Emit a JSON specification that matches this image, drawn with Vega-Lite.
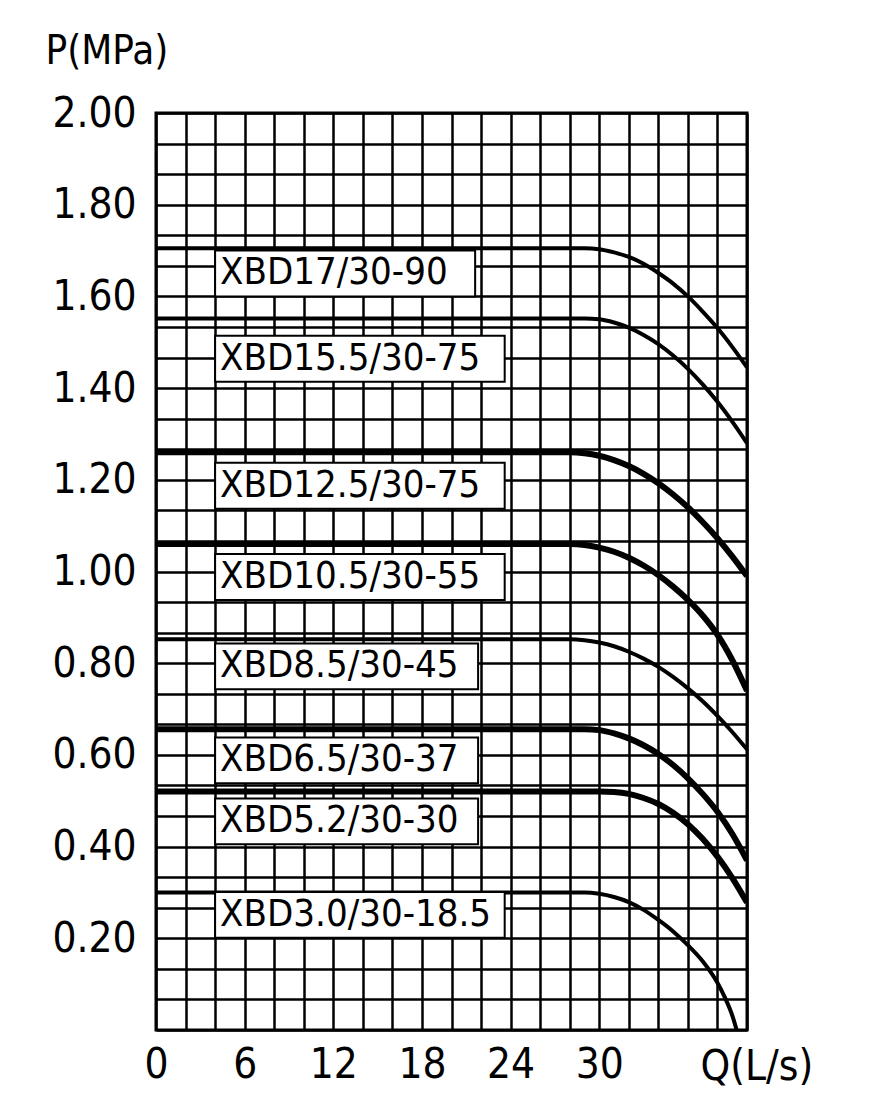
{
  "$schema": "https://vega.github.io/schema/vega-lite/v6.json",
  "width": 591,
  "height": 917,
  "autosize": {"type": "none"},
  "padding": {"left": 156, "top": 113, "right": 147, "bottom": 89},
  "background": "white",
  "config": {
    "font": "DejaVu Sans Condensed",
    "view": {"stroke": "black", "strokeWidth": 3}
  },
  "datasets": {
    "curves": [
      {"series": "XBD17/30-90", "q": 0, "p": 1.705},
      {"series": "XBD17/30-90", "q": 29, "p": 1.705},
      {"series": "XBD17/30-90", "q": 30, "p": 1.703},
      {"series": "XBD17/30-90", "q": 31, "p": 1.696},
      {"series": "XBD17/30-90", "q": 32, "p": 1.686},
      {"series": "XBD17/30-90", "q": 33, "p": 1.671},
      {"series": "XBD17/30-90", "q": 34, "p": 1.651},
      {"series": "XBD17/30-90", "q": 35, "p": 1.628},
      {"series": "XBD17/30-90", "q": 36, "p": 1.600},
      {"series": "XBD17/30-90", "q": 37, "p": 1.567},
      {"series": "XBD17/30-90", "q": 38, "p": 1.531},
      {"series": "XBD17/30-90", "q": 39, "p": 1.490},
      {"series": "XBD17/30-90", "q": 40, "p": 1.445},
      {"series": "XBD15.5/30-75", "q": 0, "p": 1.552},
      {"series": "XBD15.5/30-75", "q": 29, "p": 1.552},
      {"series": "XBD15.5/30-75", "q": 30, "p": 1.550},
      {"series": "XBD15.5/30-75", "q": 31, "p": 1.543},
      {"series": "XBD15.5/30-75", "q": 32, "p": 1.532},
      {"series": "XBD15.5/30-75", "q": 33, "p": 1.516},
      {"series": "XBD15.5/30-75", "q": 34, "p": 1.496},
      {"series": "XBD15.5/30-75", "q": 35, "p": 1.471},
      {"series": "XBD15.5/30-75", "q": 36, "p": 1.442},
      {"series": "XBD15.5/30-75", "q": 37, "p": 1.408},
      {"series": "XBD15.5/30-75", "q": 38, "p": 1.370},
      {"series": "XBD15.5/30-75", "q": 39, "p": 1.327},
      {"series": "XBD15.5/30-75", "q": 40, "p": 1.280},
      {"series": "XBD12.5/30-75", "q": 0, "p": 1.26},
      {"series": "XBD12.5/30-75", "q": 28, "p": 1.26},
      {"series": "XBD12.5/30-75", "q": 29, "p": 1.258},
      {"series": "XBD12.5/30-75", "q": 30, "p": 1.2525},
      {"series": "XBD12.5/30-75", "q": 31, "p": 1.243},
      {"series": "XBD12.5/30-75", "q": 32, "p": 1.23},
      {"series": "XBD12.5/30-75", "q": 33, "p": 1.213},
      {"series": "XBD12.5/30-75", "q": 34, "p": 1.1925},
      {"series": "XBD12.5/30-75", "q": 35, "p": 1.168},
      {"series": "XBD12.5/30-75", "q": 36, "p": 1.14},
      {"series": "XBD12.5/30-75", "q": 37, "p": 1.108},
      {"series": "XBD12.5/30-75", "q": 38, "p": 1.0725},
      {"series": "XBD12.5/30-75", "q": 39, "p": 1.033},
      {"series": "XBD12.5/30-75", "q": 40, "p": 0.99},
      {"series": "XBD10.5/30-55", "q": 0, "p": 1.06},
      {"series": "XBD10.5/30-55", "q": 28, "p": 1.06},
      {"series": "XBD10.5/30-55", "q": 29, "p": 1.058},
      {"series": "XBD10.5/30-55", "q": 30, "p": 1.052},
      {"series": "XBD10.5/30-55", "q": 31, "p": 1.043},
      {"series": "XBD10.5/30-55", "q": 32, "p": 1.03},
      {"series": "XBD10.5/30-55", "q": 33, "p": 1.013},
      {"series": "XBD10.5/30-55", "q": 34, "p": 0.992},
      {"series": "XBD10.5/30-55", "q": 35, "p": 0.967},
      {"series": "XBD10.5/30-55", "q": 36, "p": 0.938},
      {"series": "XBD10.5/30-55", "q": 37, "p": 0.904},
      {"series": "XBD10.5/30-55", "q": 38, "p": 0.862},
      {"series": "XBD10.5/30-55", "q": 39, "p": 0.807},
      {"series": "XBD10.5/30-55", "q": 40, "p": 0.74},
      {"series": "XBD8.5/30-45", "q": 0, "p": 0.852},
      {"series": "XBD8.5/30-45", "q": 28, "p": 0.852},
      {"series": "XBD8.5/30-45", "q": 29, "p": 0.850},
      {"series": "XBD8.5/30-45", "q": 30, "p": 0.845},
      {"series": "XBD8.5/30-45", "q": 31, "p": 0.837},
      {"series": "XBD8.5/30-45", "q": 32, "p": 0.825},
      {"series": "XBD8.5/30-45", "q": 33, "p": 0.810},
      {"series": "XBD8.5/30-45", "q": 34, "p": 0.792},
      {"series": "XBD8.5/30-45", "q": 35, "p": 0.770},
      {"series": "XBD8.5/30-45", "q": 36, "p": 0.745},
      {"series": "XBD8.5/30-45", "q": 37, "p": 0.717},
      {"series": "XBD8.5/30-45", "q": 38, "p": 0.685},
      {"series": "XBD8.5/30-45", "q": 39, "p": 0.650},
      {"series": "XBD8.5/30-45", "q": 40, "p": 0.612},
      {"series": "XBD6.5/30-37", "q": 0, "p": 0.656},
      {"series": "XBD6.5/30-37", "q": 29, "p": 0.656},
      {"series": "XBD6.5/30-37", "q": 30, "p": 0.654},
      {"series": "XBD6.5/30-37", "q": 31, "p": 0.647},
      {"series": "XBD6.5/30-37", "q": 32, "p": 0.636},
      {"series": "XBD6.5/30-37", "q": 33, "p": 0.621},
      {"series": "XBD6.5/30-37", "q": 34, "p": 0.602},
      {"series": "XBD6.5/30-37", "q": 35, "p": 0.578},
      {"series": "XBD6.5/30-37", "q": 36, "p": 0.549},
      {"series": "XBD6.5/30-37", "q": 37, "p": 0.515},
      {"series": "XBD6.5/30-37", "q": 38, "p": 0.476},
      {"series": "XBD6.5/30-37", "q": 39, "p": 0.428},
      {"series": "XBD6.5/30-37", "q": 40, "p": 0.37},
      {"series": "XBD5.2/30-30", "q": 0, "p": 0.52},
      {"series": "XBD5.2/30-30", "q": 30, "p": 0.52},
      {"series": "XBD5.2/30-30", "q": 31, "p": 0.519},
      {"series": "XBD5.2/30-30", "q": 32, "p": 0.515},
      {"series": "XBD5.2/30-30", "q": 33, "p": 0.506},
      {"series": "XBD5.2/30-30", "q": 34, "p": 0.493},
      {"series": "XBD5.2/30-30", "q": 35, "p": 0.474},
      {"series": "XBD5.2/30-30", "q": 36, "p": 0.449},
      {"series": "XBD5.2/30-30", "q": 37, "p": 0.417},
      {"series": "XBD5.2/30-30", "q": 38, "p": 0.378},
      {"series": "XBD5.2/30-30", "q": 39, "p": 0.332},
      {"series": "XBD5.2/30-30", "q": 40, "p": 0.278},
      {"series": "XBD3.0/30-18.5", "q": 0, "p": 0.30},
      {"series": "XBD3.0/30-18.5", "q": 29, "p": 0.30},
      {"series": "XBD3.0/30-18.5", "q": 30, "p": 0.297},
      {"series": "XBD3.0/30-18.5", "q": 31, "p": 0.29},
      {"series": "XBD3.0/30-18.5", "q": 32, "p": 0.279},
      {"series": "XBD3.0/30-18.5", "q": 33, "p": 0.262},
      {"series": "XBD3.0/30-18.5", "q": 34, "p": 0.24},
      {"series": "XBD3.0/30-18.5", "q": 35, "p": 0.215},
      {"series": "XBD3.0/30-18.5", "q": 36, "p": 0.185},
      {"series": "XBD3.0/30-18.5", "q": 37, "p": 0.15},
      {"series": "XBD3.0/30-18.5", "q": 38, "p": 0.103},
      {"series": "XBD3.0/30-18.5", "q": 38.5, "p": 0.071},
      {"series": "XBD3.0/30-18.5", "q": 39, "p": 0.032},
      {"series": "XBD3.0/30-18.5", "q": 39.3, "p": 0.0}
    ],
    "labels": [
      {"name": "XBD17/30-90", "q": 4.0, "q2": 21.6, "p": 1.65},
      {"name": "XBD15.5/30-75", "q": 4.0, "q2": 23.6, "p": 1.464},
      {"name": "XBD12.5/30-75", "q": 4.0, "q2": 23.6, "p": 1.187},
      {"name": "XBD10.5/30-55", "q": 4.0, "q2": 23.6, "p": 0.988},
      {"name": "XBD8.5/30-45", "q": 4.0, "q2": 21.8, "p": 0.793},
      {"name": "XBD6.5/30-37", "q": 4.0, "q2": 21.8, "p": 0.588},
      {"name": "XBD5.2/30-30", "q": 4.0, "q2": 21.8, "p": 0.455},
      {"name": "XBD3.0/30-18.5", "q": 4.0, "q2": 23.6, "p": 0.251}
    ]
  },
  "layer": [
    {
      "data": {"name": "curves"},
      "transform": [{"filter": {"field": "series", "oneOf": ["XBD17/30-90", "XBD15.5/30-75", "XBD8.5/30-45", "XBD3.0/30-18.5"]}}],
      "mark": {"type": "line", "color": "black", "strokeWidth": 4, "interpolate": "monotone", "clip": true},
      "encoding": {
        "x": {
          "field": "q", "type": "quantitative",
          "scale": {"domain": [0, 40], "nice": false, "zero": true},
          "axis": {
            "values": [0, 2, 4, 6, 8, 10, 12, 14, 16, 18, 20, 22, 24, 26, 28, 30, 32, 34, 36, 38, 40],
            "tickCount": 60,
            "labelExpr": "(datum.value % 6 == 0 && datum.value <= 30) ? datum.value : ''",
            "grid": true, "gridColor": "black", "gridWidth": 2.5, "gridOpacity": 1,
            "ticks": false, "domain": false,
            "labelFontSize": 42, "labelColor": "black", "labelPadding": 14,
            "labelFlush": false, "labelOverlap": false,
            "title": "Q(L/s)", "titleFontSize": 42, "titleFontWeight": "normal", "titleColor": "black",
            "titleAnchor": "start", "titleAlign": "left", "titleX": 544, "titleY": 36, "titleBaseline": "middle"
          }
        },
        "y": {
          "field": "p", "type": "quantitative",
          "scale": {"domain": [0, 2], "nice": false, "zero": true},
          "axis": {
            "values": [0, 0.0666667, 0.1333333, 0.2, 0.2666667, 0.3333333, 0.4, 0.4666667, 0.5333333, 0.6, 0.6666667, 0.7333333, 0.8, 0.8666667, 0.9333333, 1.0, 1.0666667, 1.1333333, 1.2, 1.2666667, 1.3333333, 1.4, 1.4666667, 1.5333333, 1.6, 1.6666667, 1.7333333, 1.8, 1.8666667, 1.9333333, 2.0],
            "tickCount": 60,
            "labelExpr": "(abs(datum.value*5 - round(datum.value*5)) < 0.001 && datum.value > 0.01) ? format(datum.value, '.2f') : ''",
            "grid": true, "gridColor": "black", "gridWidth": 2.5, "gridOpacity": 1,
            "ticks": false, "domain": false,
            "labelFontSize": 42, "labelColor": "black", "labelPadding": 20,
            "labelFlush": false, "labelOverlap": false,
            "title": "P(MPa)", "titleFontSize": 40, "titleFontWeight": "normal", "titleColor": "black",
            "titleAngle": 0, "titleAlign": "left", "titleAnchor": "start", "titleX": -111, "titleY": -62, "titleBaseline": "middle"
          }
        },
        "detail": {"field": "series"}
      }
    },
    {
      "data": {"name": "curves"},
      "transform": [{"filter": {"field": "series", "oneOf": ["XBD12.5/30-75", "XBD10.5/30-55", "XBD6.5/30-37", "XBD5.2/30-30"]}}],
      "mark": {"type": "line", "color": "black", "strokeWidth": 6, "interpolate": "monotone", "clip": true},
      "encoding": {
        "x": {"field": "q", "type": "quantitative"},
        "y": {"field": "p", "type": "quantitative"},
        "detail": {"field": "series"}
      }
    },
    {
      "data": {"name": "labels"},
      "transform": [
        {"calculate": "datum.p - 0.05", "as": "lo"},
        {"calculate": "datum.p + 0.05", "as": "hi"}
      ],
      "mark": {"type": "rect", "fill": "white", "stroke": "black", "strokeWidth": 2},
      "encoding": {
        "x": {"field": "q", "type": "quantitative"},
        "x2": {"field": "q2"},
        "y": {"field": "lo", "type": "quantitative"},
        "y2": {"field": "hi"}
      }
    },
    {
      "data": {"name": "labels"},
      "mark": {"type": "text", "align": "left", "baseline": "middle", "dx": 5, "fontSize": 38, "color": "black"},
      "encoding": {
        "x": {"field": "q", "type": "quantitative"},
        "y": {"field": "p", "type": "quantitative"},
        "text": {"field": "name"}
      }
    }
  ]
}
